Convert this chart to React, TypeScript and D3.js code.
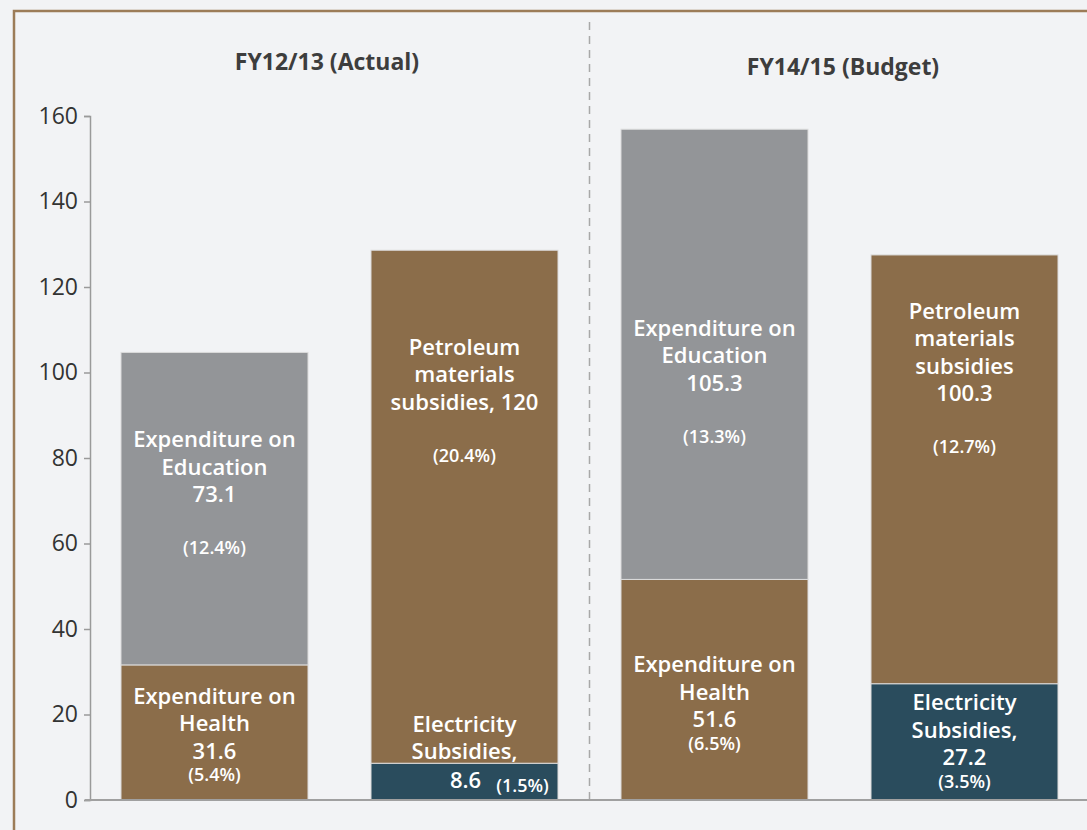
import React, { useEffect, useRef } from "react";
import * as d3 from "d3";

const bars = ["edu12", "energy12", "edu14", "energy14"];
const periods = ["FY12/13 (Actual)", "FY14/15 (Budget)"];
const bottomValues = [31.6, 8.6, 51.6, 27.2];
const topValues = [73.1, 120, 105.3, 100.3];
const bottomShares = ["(5.4%)", "(1.5%)", "(6.5%)", "(3.5%)"];
const topShares = ["(12.4%)", "(20.4%)", "(13.3%)", "(12.7%)"];
const bottomNames = [["Expenditure on", "Health"], ["Electricity", "Subsidies,"], ["Expenditure on", "Health"], ["Electricity", "Subsidies,"]];
const topNames = [["Expenditure on", "Education"], ["Petroleum", "materials", "subsidies, 120"], ["Expenditure on", "Education"], ["Petroleum", "materials", "subsidies"]];
const yTicks = [0, 20, 40, 60, 80, 100, 120, 140, 160];

const GREY = "#939598";
const BROWN = "#8b6d4a";
const TEAL = "#2a4c5d";
const FONT = "'Open Sans', 'Noto Sans', sans-serif";

export default function App() {
  const svgRef = useRef<SVGSVGElement>(null);

  useEffect(() => {
    const width = 1087;
    const height = 830;
    const svg = d3.select(svgRef.current);
    svg.selectAll("*").remove();

    svg.append("rect").attr("width", width).attr("height", height).attr("fill", "#f2f3f5");

    // frame
    svg.append("path")
      .attr("d", `M14,${height} L14,11 L${width},11`)
      .attr("fill", "none")
      .attr("stroke", "#9c7c58")
      .attr("stroke-width", 2.5);

    const y = d3.scaleLinear().domain([0, 160]).range([800, 116]);
    const x = d3.scaleBand<string>().domain(bars).range([89.5, 1089.5])
      .paddingInner(0.252).paddingOuter(0.126);

    // divider
    const divX = (x(bars[1])! + x.bandwidth() + x(bars[2])!) / 2;
    svg.append("line")
      .attr("x1", divX).attr("x2", divX).attr("y1", 22).attr("y2", 800)
      .attr("stroke", "#a8a8a8").attr("stroke-width", 1.5).attr("stroke-dasharray", "8,6");

    // titles
    const titleX = [327, 843];
    const titleY = [62, 67];
    periods.forEach((p, i) => {
      svg.append("text")
        .attr("x", titleX[i]).attr("y", titleY[i]).attr("dy", "0.35em")
        .attr("text-anchor", "middle")
        .style("font-family", FONT).style("font-weight", 700).style("font-size", "23px")
        .style("fill", "#3d3d3d")
        .text(p);
    });

    // y axis
    const ax = svg.append("g").attr("transform", "translate(90,0)")
      .call(d3.axisLeft(y).tickValues(yTicks).tickSize(6).tickPadding(6).tickFormat(d3.format("d")));
    ax.select(".domain").attr("stroke", "#9a9a9a").attr("stroke-width", 1.5);
    ax.selectAll(".tick line").attr("stroke", "#9a9a9a").attr("stroke-width", 1.5);
    ax.selectAll(".tick text")
      .style("font-family", FONT).style("font-size", "23px").style("fill", "#333");

    // bars
    const bw = x.bandwidth();
    bars.forEach((b, i) => {
      const x0 = x(b)!;
      svg.append("rect")
        .attr("x", x0).attr("width", bw)
        .attr("y", y(bottomValues[i])).attr("height", y(0) - y(bottomValues[i]))
        .attr("fill", i % 2 === 0 ? BROWN : TEAL)
        .attr("stroke", "#dcdcdc").attr("stroke-width", 1);
      svg.append("rect")
        .attr("x", x0).attr("width", bw)
        .attr("y", y(bottomValues[i] + topValues[i]))
        .attr("height", y(bottomValues[i]) - y(bottomValues[i] + topValues[i]))
        .attr("fill", i % 2 === 0 ? GREY : BROWN)
        .attr("stroke", "#dcdcdc").attr("stroke-width", 1);
    });

    // x axis
    svg.append("line")
      .attr("x1", 85).attr("x2", width).attr("y1", y(0)).attr("y2", y(0))
      .attr("stroke", "#a0a0a0").attr("stroke-width", 2);

    // segment labels
    const lineGap = 27.5;
    const nameSize = "22px";
    const pctSize = "18px";
    const label = (cx: number, top: number, lines: string[], pct: string | null, pctGap: number) => {
      lines.forEach((l, k) => {
        svg.append("text")
          .attr("x", cx).attr("y", top + k * lineGap).attr("dy", "0.35em")
          .attr("text-anchor", "middle")
          .style("font-family", FONT).style("font-weight", 600).style("font-size", nameSize)
          .style("fill", "#fff")
          .text(l);
      });
      if (pct) {
        svg.append("text")
          .attr("x", cx).attr("y", top + (lines.length - 1) * lineGap + pctGap).attr("dy", "0.35em")
          .attr("text-anchor", "middle")
          .style("font-family", FONT).style("font-weight", 600).style("font-size", pctSize)
          .style("fill", "#fff")
          .text(pct);
      }
    };

    const topOffsets = [87, 97, 199, 56];
    const bottomOffsets = [31, -39, 85, 19];
    bars.forEach((b, i) => {
      const cx = x(b)! + bw / 2;
      const topY = y(bottomValues[i] + topValues[i]);
      const botY = y(bottomValues[i]);
      const tLines = [...topNames[i]];
      if (i !== 1) tLines.push(String(topValues[i]));
      label(cx, topY + topOffsets[i], tLines, topShares[i], 53);
      if (i === 1) {
        label(cx, botY + bottomOffsets[i], bottomNames[i], null, 0);
        svg.append("text")
          .attr("x", cx + 1).attr("y", y(0) - 20).attr("dy", "0.35em")
          .attr("text-anchor", "middle")
          .style("font-family", FONT).style("font-weight", 600).style("font-size", nameSize)
          .style("fill", "#fff")
          .text(String(bottomValues[i]));
        svg.append("text")
          .attr("x", cx + 58).attr("y", y(0) - 14).attr("dy", "0.35em")
          .attr("text-anchor", "middle")
          .style("font-family", FONT).style("font-weight", 600).style("font-size", pctSize)
          .style("fill", "#fff")
          .text(bottomShares[i]);
      } else {
        label(cx, botY + bottomOffsets[i], [...bottomNames[i], String(bottomValues[i])], bottomShares[i], 24);
      }
    });
  }, []);

  return (
    <svg
      ref={svgRef}
      width={1087}
      height={830}
      style={{ position: "absolute", left: 0, top: 0, display: "block" }}
    />
  );
}
